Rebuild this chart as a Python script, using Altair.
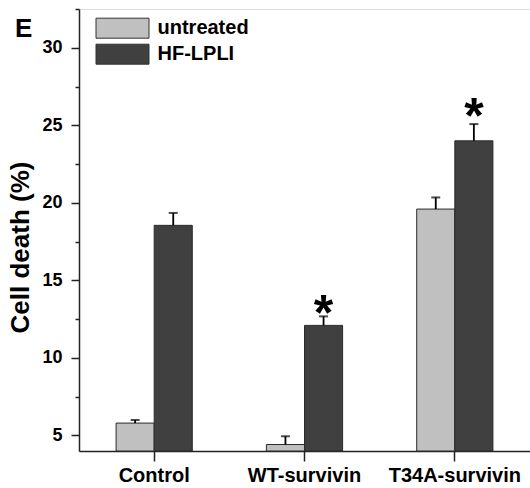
import altair as alt
import pandas as pd

groups = ["Control", "WT-survivin", "T34A-survivin"]
treatments = ["untreated", "HF-LPLI"]
untreated_vals = [5.8, 4.42, 19.6]
hf_vals = [18.55, 12.1, 24.0]
untreated_err = [0.2, 0.53, 0.75]
hf_err = [0.8, 0.58, 1.08]
star_groups = ["WT-survivin", "T34A-survivin"]
star_pos = [13.45, 26.2]
y_ticks = [5, 7.5, 10, 12.5, 15, 17.5, 20, 22.5, 25, 27.5, 30, 32.5]
colors = ["#c0c0c0", "#404040"]

rows = []
for g, v, e in zip(groups, untreated_vals, untreated_err):
    rows.append({"group": g, "treatment": "untreated", "value": v, "top": v + e})
for g, v, e in zip(groups, hf_vals, hf_err):
    rows.append({"group": g, "treatment": "HF-LPLI", "value": v, "top": v + e})
df = pd.DataFrame(rows)
stars = pd.DataFrame({"group": star_groups, "treatment": ["HF-LPLI"] * len(star_groups),
                      "pos": star_pos})

FONT = "Liberation Sans"

xenc = alt.X("group:N", sort=groups,
             scale=alt.Scale(paddingInner=0.493, paddingOuter=0.2467),
             axis=alt.Axis(title=None, labelAngle=0, tickSize=10, tickWidth=1.5,
                           tickColor="#222", domainColor="#222", domainWidth=1.5,
                           labelFont=FONT, labelFontSize=20, labelFontWeight="bold",
                           labelColor="black", labelPadding=4, grid=False))
xoff = alt.XOffset("treatment:N", sort=treatments,
                   scale=alt.Scale(paddingInner=0, paddingOuter=0))
yscale = alt.Scale(domain=[4, 32.5], nice=False, zero=False)

yaxis = alt.Axis(values=y_ticks, title="Cell death (%)",
                 labelExpr="datum.value % 5 === 0 ? datum.label : ''",
                 tickSize={"condition": {"test": "datum.value % 5 === 0", "value": 8}, "value": 4},
                 tickWidth=1.5, tickColor="#222", domainColor="#222", domainWidth=1.5,
                 labelFont=FONT, labelFontSize=18, labelFontWeight="bold", labelColor="black",
                 labelPadding=9, grid=False,
                 titleFont=FONT, titleFontSize=26, titleFontWeight="bold", titleColor="black",
                 titleX=-59, titleY=238, titleAngle=270, titleAlign="center",
                 titleBaseline="middle")

color = alt.Color("treatment:N", sort=treatments,
                  scale=alt.Scale(domain=treatments, range=colors),
                  legend=alt.Legend(title=None, orient="none", legendX=33, legendY=8.7,
                                    symbolType="M-2.65,-1H2.65V1H-2.65Z", symbolSize=400,
                                    symbolStrokeColor="#333", symbolStrokeWidth=1,
                                    symbolOpacity=1, labelFont=FONT, labelFontSize=20,
                                    labelFontWeight="bold", labelColor="black",
                                    labelOffset=24.5, rowPadding=1, padding=0))

bars = alt.Chart(df).mark_bar(stroke="#2b2b2b", strokeWidth=1).encode(
    x=xenc, xOffset=xoff,
    y=alt.Y("value:Q", scale=yscale, axis=yaxis),
    y2=alt.datum(4),
    color=color,
)

rules = alt.Chart(df).mark_rule(color="black", strokeWidth=1.8).encode(
    x=xenc, xOffset=xoff, y=alt.Y("value:Q", scale=yscale), y2="top:Q")

caps = alt.Chart(df).mark_tick(color="black", thickness=2, size=9, orient="horizontal").encode(
    x=xenc, xOffset=xoff, y=alt.Y("top:Q", scale=yscale))

star_text = alt.Chart(stars).mark_text(text="*", font=FONT, fontSize=50, fontWeight="bold",
                                       baseline="alphabetic", dy=26, color="black").encode(
    x=xenc, xOffset=xoff, y=alt.Y("pos:Q", scale=yscale))

chart = alt.layer(bars, rules, caps, star_text).properties(
    width=451, height=442,
    title=alt.TitleParams(text="E", font=FONT, fontSize=26, fontWeight="bold", color="black",
                          anchor="start", frame="group", orient="top", offset=0,
                          baseline="alphabetic", dx=-64, dy=55),
    autosize=alt.AutoSizeParams(type="none"),
    padding={"left": 79, "top": 9, "right": 0, "bottom": 37},
).configure_view(stroke=None).configure(background="white")

chart.save("out.html", embed_options={"renderer": "svg", "actions": False})
